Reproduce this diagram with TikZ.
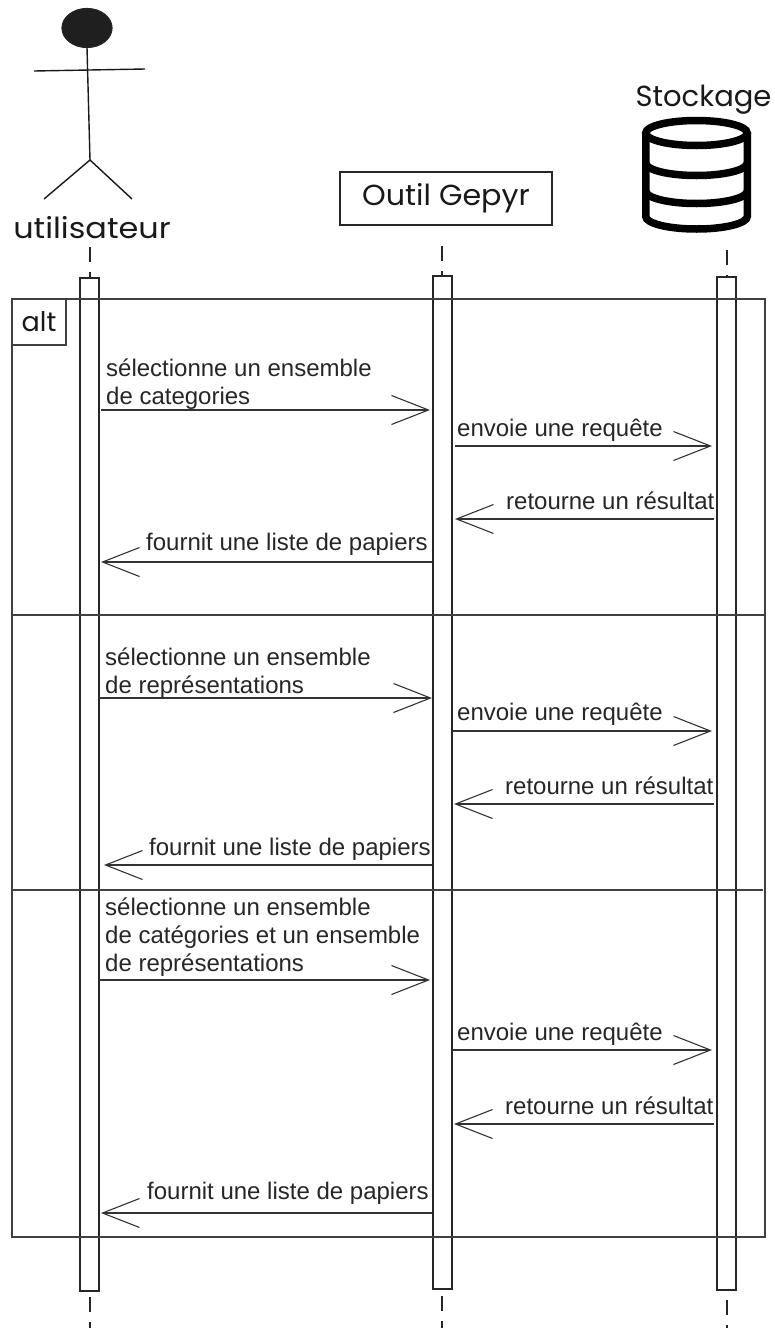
\documentclass[tikz,border=0pt]{standalone}
\usepackage{fontspec}
\usetikzlibrary{arrows.meta,shapes.geometric}
\setmainfont{Liberation Sans}
\newfontfamily\handfont{Poppins}
\tikzset{
  every picture/.style={x=1pt,y=-1pt},
  ink/.style={draw=black!85,line width=1.2pt},
  limb/.style={draw=black!90,line width=1.4pt},
  bar/.style={ink,rectangle,minimum width=19pt,inner sep=0pt,outer sep=0pt},
  msg/.style={draw=black!80,line width=1.3pt,-{Straight Barb[length=37pt,width=29pt,line width=1.1pt]}},
  framebox/.style={draw=black!75,line width=1.2pt},
  lifeline/.style={draw=black!85,line width=1.2pt,dash pattern=on 14.5pt off 10.5pt},
  lbl/.style={anchor=base west,inner sep=0pt,align=left,font=\fontsize{24}{28}\selectfont,text=black!85},
  hand/.style={inner sep=0pt,text=black!90,font=\handfont\fontsize{29}{32}\selectfont},
  dbline/.style={draw=black,line width=7.5pt}
}
\begin{document}
\begin{tikzpicture}
\useasboundingbox (0,0) rectangle (774,1328);
% actor
\node[ink,fill=black!88,ellipse,minimum width=50pt,minimum height=39pt,inner sep=0pt,outer sep=0pt] (head) at (87,28) {};
\coordinate (hip) at (90,160);
\coordinate (armL) at (34,71);
\coordinate (armR) at (145,69);
\coordinate (legL) at (44,199);
\coordinate (legR) at (132,199);
\draw[limb] (head.south) -- (hip);
\draw[limb] (armL) -- (armR);
\draw[limb] (legL) -- (hip) -- (legR);
\node[hand,xscale=1.1] (user) at (92,228) {utilisateur};
% tool
\node[ink,minimum width=212pt,minimum height=53pt,inner sep=0pt,outer sep=0pt] (tool) at (446,198.5) {};
\node[hand,xscale=1.04] (toollabel) at (446,198) {Outil Gepyr};
% storage
\node[hand] (store) at (703.5,100) {Stockage};
\draw[dbline,fill=white] (645.75,133) arc[start angle=180,end angle=0,x radius=50.75pt,y radius=12.5pt]
   arc[start angle=0,end angle=-180,x radius=50.75pt,y radius=12.5pt] -- cycle;
\draw[dbline] (645.75,133) -- (645.75,216.5) arc[start angle=180,end angle=360,x radius=50.75pt,y radius=12.5pt] -- (747.25,133);
\draw[dbline] (645.75,163) arc[start angle=180,end angle=360,x radius=50.75pt,y radius=12.5pt];
\draw[dbline] (645.75,191) arc[start angle=180,end angle=360,x radius=50.75pt,y radius=12.5pt];
% activation bars
\node[bar,minimum height=1013pt] (ubar) at (89.5,784.5) {};
\node[bar,minimum height=1013pt] (tbar) at (442.5,782.5) {};
\node[bar,minimum height=1013pt] (sbar) at (726.5,783.5) {};
% lifelines
\coordinate (u0) at (90,247); \coordinate (u1) at (90,1297); \coordinate (ue) at (90,1328);
\coordinate (t0) at (442,246); \coordinate (t1) at (442,1296); \coordinate (te) at (442,1328);
\coordinate (s0) at (727,250); \coordinate (s1) at (727,1300); \coordinate (se) at (727,1328);
\draw[lifeline] (u0) -- (u0 |- ubar.north);
\draw[lifeline] (t0) -- (t0 |- tbar.north);
\draw[lifeline] (s0) -- (s0 |- sbar.north);
\draw[lifeline] (u1) -- (ue);
\draw[lifeline] (t1) -- (te);
\draw[lifeline] (s1) -- (se);
% frame
\node[framebox,rectangle,minimum width=753pt,minimum height=938pt,inner sep=0pt,outer sep=0pt] (frame) at (388.5,768) {};
\node[framebox,fill=white,rectangle,minimum width=54pt,minimum height=46pt,inner sep=0pt,outer sep=0pt] (alt) at (39,322) {};
\node[hand,font=\handfont\fontsize{27}{30}\selectfont] (altlabel) at (39,322) {alt};
\coordinate (d1a) at (12,615); \coordinate (d1b) at (765,615);
\coordinate (d2a) at (12,890); \coordinate (d2b) at (763,890);
\draw[framebox] (d1a) -- (d1b);
\draw[framebox] (d2a) -- (d2b);
% messages
\foreach \n/\xa/\xb/\y in {m1/101/430/410,m2/455/712/446,m3/714/455/519,m4/432/101/562,
  m5/99/432/698,m6/453/712/731,m7/714/454/804,m8/432/104/865,
  m9/99/430/980,m10/453/712/1050,m11/714/454/1124,m12/432/101/1213}{
  \coordinate (\n s) at (\xa,\y);
  \coordinate (\n e) at (\xb,\y);
  \draw[msg] (\n s) -- (\n e);
}
\node[lbl] (l1) at (106,404) {sélectionne un ensemble\\de categories};
\node[lbl] (l2) at (457,436) {envoie une requête};
\node[lbl] (l3) at (506,509) {retourne un résultat};
\node[lbl] (l4) at (146,550) {fournit une liste de papiers};
\node[lbl] (l5) at (105,693) {sélectionne un ensemble\\de représentations};
\node[lbl] (l6) at (457,720) {envoie une requête};
\node[lbl] (l7) at (505,794) {retourne un résultat};
\node[lbl] (l8) at (149,855) {fournit une liste de papiers};
\node[lbl] (l9) at (105,971) {sélectionne un ensemble\\de catégories et un ensemble\\de représentations};
\node[lbl] (l10) at (457,1040) {envoie une requête};
\node[lbl] (l11) at (505,1114) {retourne un résultat};
\node[lbl] (l12) at (147,1199) {fournit une liste de papiers};
\end{tikzpicture}
\end{document}
